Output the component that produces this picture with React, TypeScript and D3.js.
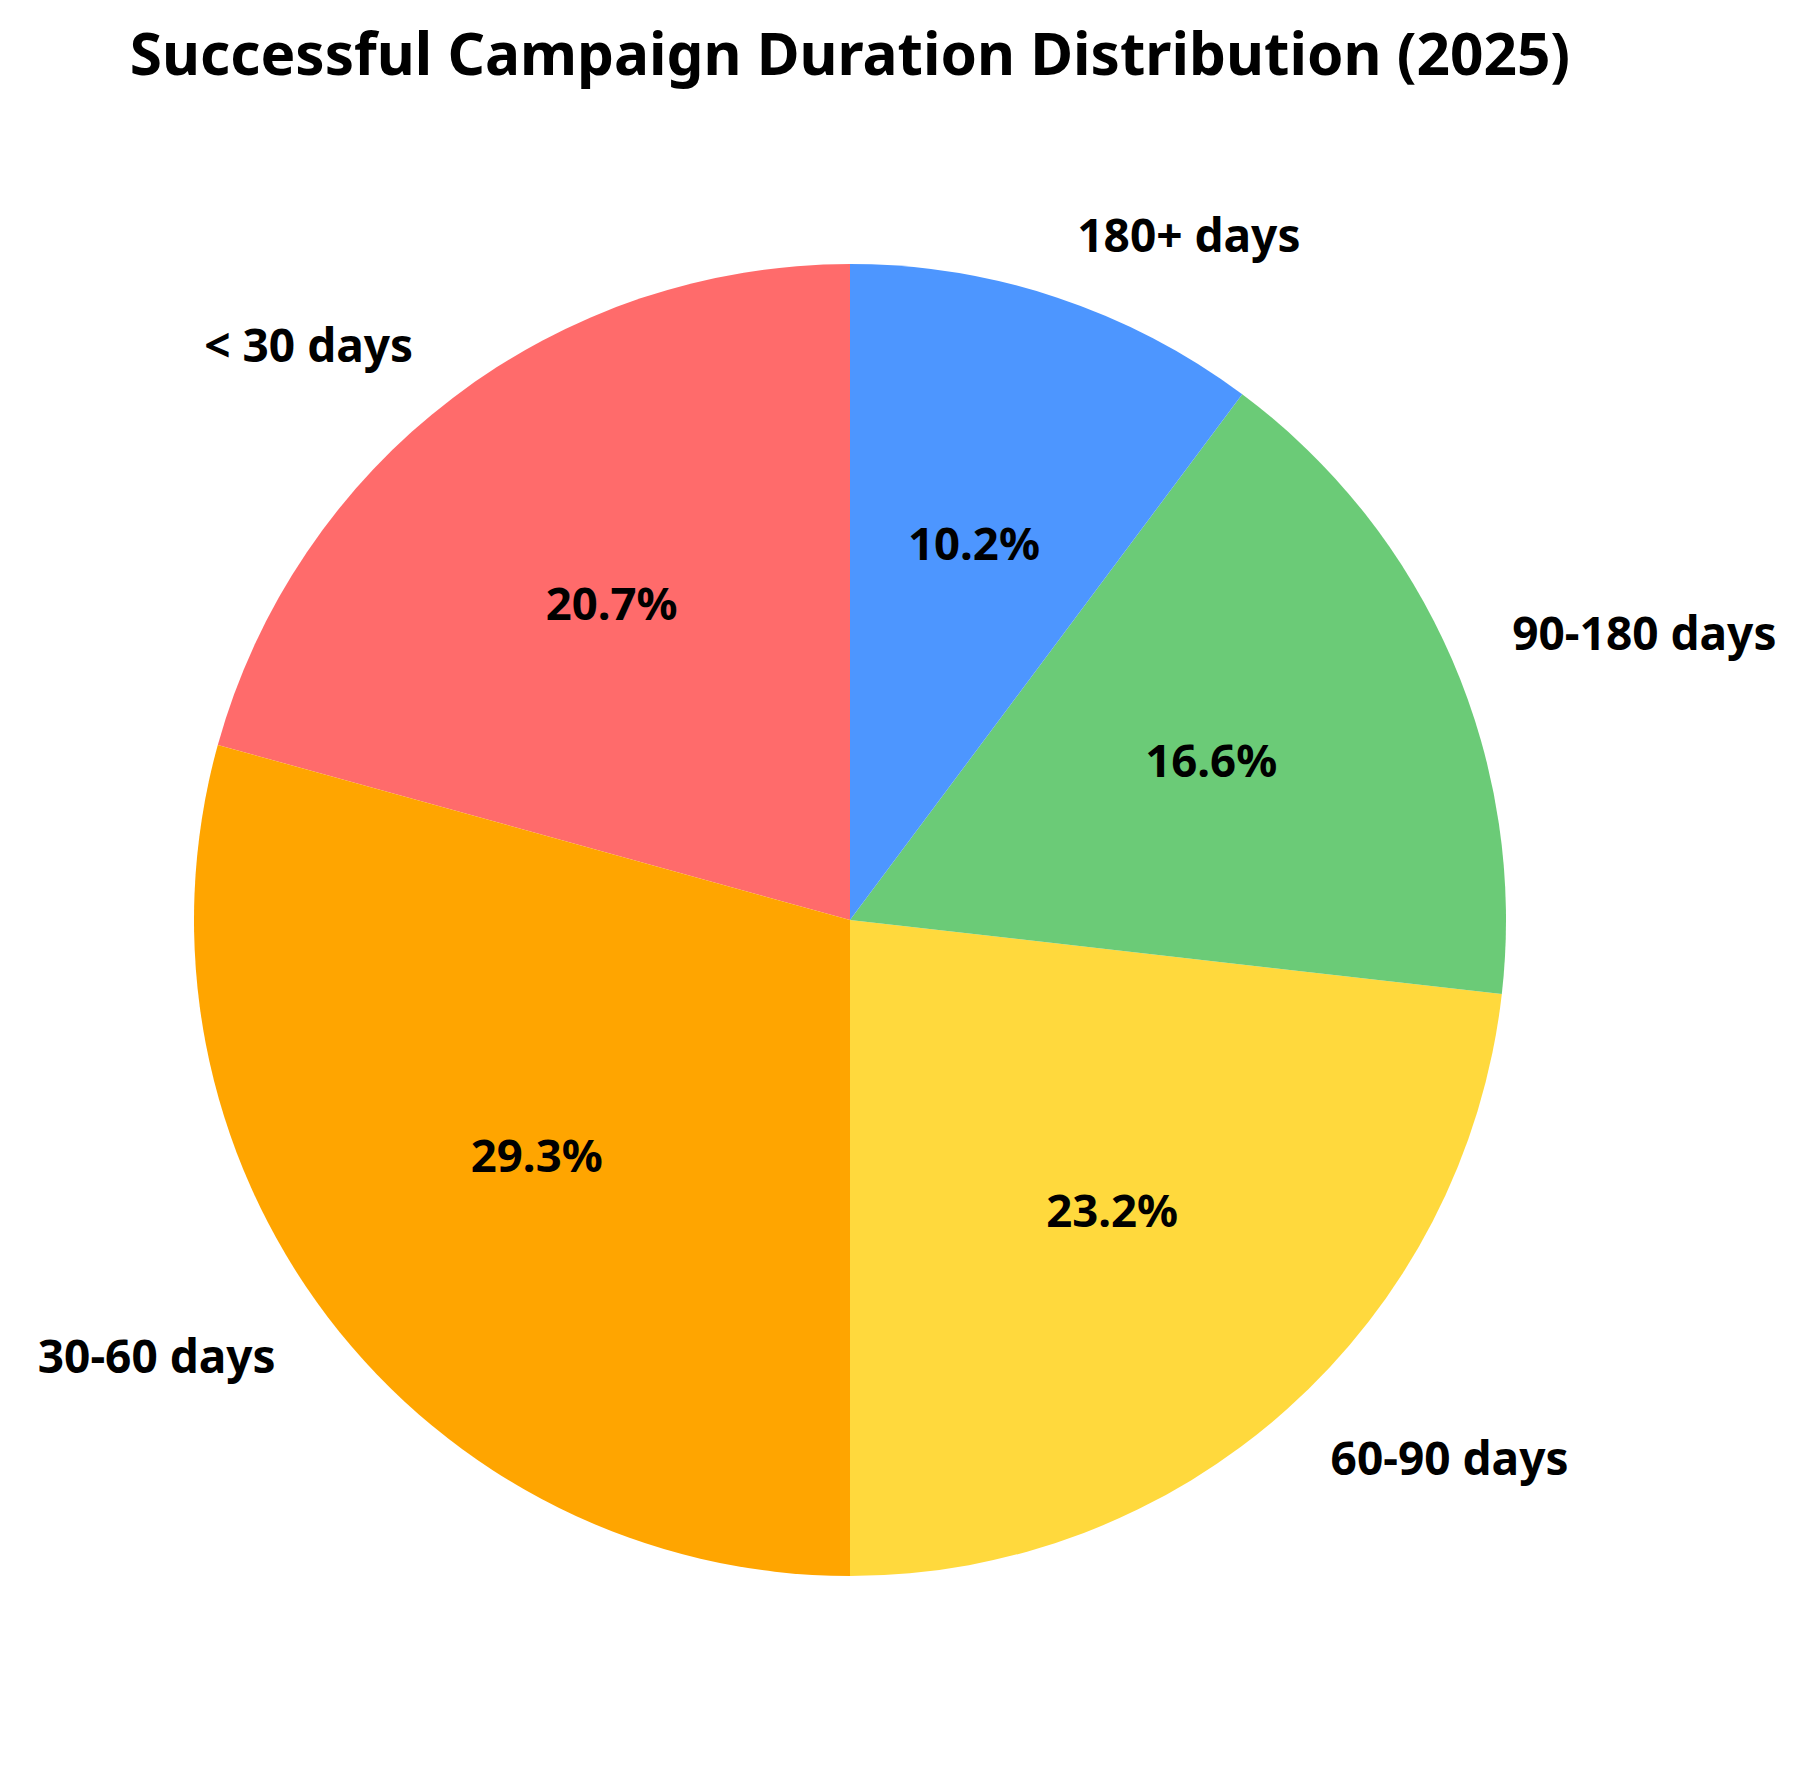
import React, { useEffect, useRef } from 'react';
import * as d3 from 'd3';

// pie data (percent of successful campaigns, 2025)
const categories = ['< 30 days', '30-60 days', '60-90 days', '90-180 days', '180+ days'];
const shares = [20.7, 29.3, 23.2, 16.6, 10.2];
const colors = ['#FF6B6B', '#FFA500', '#FFD93D', '#6BCB77', '#4D96FF'];
const title = 'Successful Campaign Duration Distribution (2025)';

const W = 1806;
const H = 1770;

const App: React.FC = () => {
  const svgRef = useRef<SVGSVGElement>(null);

  useEffect(() => {
    document.body.style.margin = '0';
    if (!svgRef.current) return;

    const svg = d3.select(svgRef.current);
    svg.selectAll('*').remove();

    const cx = 850;
    const cy = 920;
    const radius = 656;
    const font = '"Noto Sans", "Open Sans", "DejaVu Sans", sans-serif';

    svg.append('rect').attr('width', W).attr('height', H).attr('fill', '#ffffff');

    svg.append('text')
      .attr('x', cx)
      .attr('y', 75)
      .attr('text-anchor', 'middle')
      .attr('font-family', font)
      .attr('font-weight', 700)
      .attr('font-size', 58.5)
      .attr('fill', '#000')
      .text(title);

    const rows = categories.map((c, i) => ({ label: c, value: shares[i], color: colors[i] }));

    // matplotlib style: start at 12 o'clock, go counterclockwise
    const pie = d3.pie<any>()
      .value(d => d.value)
      .sort(null)
      .startAngle(0)
      .endAngle(-2 * Math.PI);

    const arc = d3.arc<any>().innerRadius(0).outerRadius(radius);
    const arcs = pie(rows);
    const total = d3.sum(shares);

    const g = svg.append('g').attr('transform', `translate(${cx},${cy})`);

    g.selectAll('path.slice')
      .data(arcs)
      .join('path')
      .attr('class', 'slice')
      .attr('d', arc as any)
      .attr('fill', d => d.data.color);

    const mid = (d: any) => (d.startAngle + d.endAngle) / 2;

    // category labels outside at 1.1 r
    g.selectAll('text.cat')
      .data(arcs)
      .join('text')
      .attr('class', 'cat')
      .attr('x', d => Math.sin(mid(d)) * radius * 1.1)
      .attr('y', d => -Math.cos(mid(d)) * radius * 1.1)
      .attr('dy', '0.36em')
      .attr('text-anchor', d => (Math.sin(mid(d)) > 0 ? 'start' : 'end'))
      .attr('font-family', font)
      .attr('font-weight', 700)
      .attr('font-size', 46)
      .attr('fill', '#000')
      .text(d => d.data.label);

    // percentages inside at 0.6 r
    g.selectAll('text.pct')
      .data(arcs)
      .join('text')
      .attr('class', 'pct')
      .attr('x', d => Math.sin(mid(d)) * radius * 0.6)
      .attr('y', d => -Math.cos(mid(d)) * radius * 0.6)
      .attr('dy', '0.3em')
      .attr('text-anchor', 'middle')
      .attr('font-family', font)
      .attr('font-weight', 700)
      .attr('font-size', 45.5)
      .attr('fill', '#000')
      .text(d => `${((d.data.value / total) * 100).toFixed(1)}%`);
  }, []);

  return <svg ref={svgRef} width={W} height={H} style={{ display: 'block' }} />;
};

export default App;
